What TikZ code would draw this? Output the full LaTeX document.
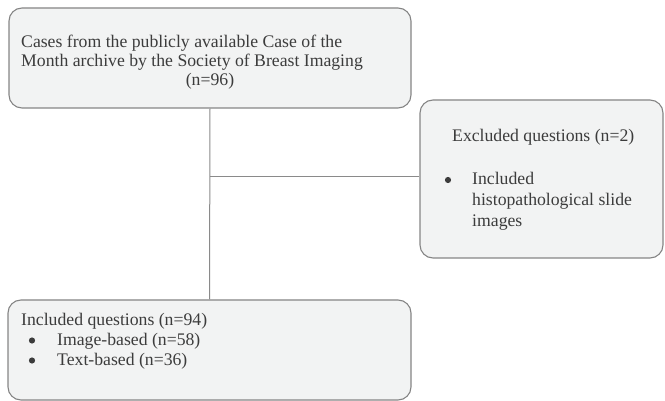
\documentclass[tikz,border=0pt]{standalone}
\usepackage{fontspec}
\setmainfont{Liberation Serif}
\definecolor{boxfill}{HTML}{F2F3F3}
\definecolor{boxline}{HTML}{858585}
\definecolor{txt}{HTML}{3C3C3C}
\definecolor{conn}{HTML}{8A8A8A}
\begin{document}
\begin{tikzpicture}[x=1pt,y=1pt,
  flowbox/.style={draw=boxline, fill=boxfill, line width=1.1pt, rounded corners=13pt, inner sep=0pt},
  lbl/.style={anchor=base west, inner sep=0pt, text=txt, font=\fontsize{17.7}{19}\selectfont},
  ctr/.style={anchor=base, inner sep=0pt, text=txt, font=\fontsize{17.7}{19}\selectfont},
  bul/.style={circle, fill=txt, inner sep=0pt, minimum size=6.2pt},
  link/.style={draw=conn, line width=1pt}]
\useasboundingbox (0,0) rectangle (665,-401);
% boxes
\node[flowbox, minimum width=402pt, minimum height=100pt] (top) at (210,-58) {};
\node[flowbox, minimum width=243pt, minimum height=158pt] (excl) at (541.5,-179) {};
\node[flowbox, minimum width=403pt, minimum height=100pt] (incl) at (209.5,-350) {};
% connectors
\coordinate (j) at (210,-176.5);
\draw[link] (top.south) -- (incl.north);
\draw[link] (j) -- (j -| excl.west);
% top text
\node[lbl] (t1) at (21,-48) {Cases from the publicly available Case of the};
\node[lbl] (t2) at (21,-67) {Month archive by the Society of Breast Imaging};
\node[ctr] (t3) at (210,-86) {(n=96)};
% excluded text
\node[lbl] (e1) at (452,-142) {Excluded questions (n=2)};
\node[bul] (eb) at (448,-180) {};
\node[lbl] (e2) at (472,-185) {Included};
\node[lbl] (e3) at (472,-206) {histopathological slide};
\node[lbl] (e4) at (472,-227) {images};
% included text
\node[lbl] (i1) at (21,-325) {Included questions (n=94)};
\node[bul] (ib1) at (32,-340.5) {};
\node[lbl] (i2) at (57,-345) {Image-based (n=58)};
\node[bul] (ib2) at (32,-360.5) {};
\node[lbl] (i3) at (57,-365) {Text-based (n=36)};
\end{tikzpicture}
\end{document}
